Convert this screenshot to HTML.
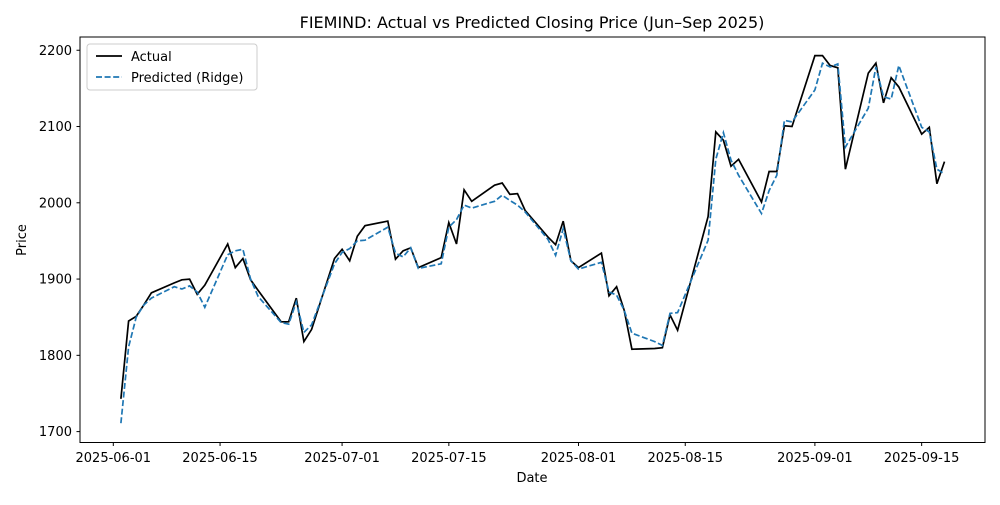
<!DOCTYPE html>
<html><head><meta charset="utf-8"><style>
html,body{margin:0;padding:0;background:#fff}
svg text{font-family:"DejaVu Sans","Liberation Sans",sans-serif;fill:#000}
</style></head><body>
<svg id="chart" width="1000" height="500" viewBox="0 0 1000 500">
<rect width="1000" height="500" fill="#fff"/>
<text x="532" y="28" font-size="16" text-anchor="middle">FIEMIND: Actual vs Predicted Closing Price (Jun–Sep 2025)</text>
<g id="grid"></g>
<g id="series"></g>
<rect x="80" y="37" width="905" height="405.5" fill="none" stroke="#000" stroke-width="1"/>
<g id="axes"></g>
<text x="532" y="482" font-size="13" text-anchor="middle">Date</text>
<text x="26" y="240" font-size="13" text-anchor="middle" transform="rotate(-90 26 240)">Price</text>
<g>
<rect x="87" y="44" width="170" height="46" rx="3" fill="#fff" stroke="#ccc"/>
<line x1="96" y1="56" x2="122" y2="56" stroke="#000" stroke-width="1.7"/>
<text x="131" y="61" font-size="13">Actual</text>
<line x1="96" y1="77" x2="122" y2="77" stroke="#1f77b4" stroke-width="1.7" stroke-dasharray="6,2.6"/>
<text x="131" y="82" font-size="13">Predicted (Ridge)</text>
</g>
</svg>
<script>
const dates=["06-02","06-03","06-04","06-05","06-06","06-09","06-10","06-11","06-12","06-13","06-16","06-17","06-18","06-19","06-20","06-23","06-24","06-25","06-26","06-27","06-30","07-01","07-02","07-03","07-04","07-07","07-08","07-09","07-10","07-11","07-14","07-15","07-16","07-17","07-18","07-21","07-22","07-23","07-24","07-25","07-28","07-29","07-30","07-31","08-01","08-04","08-05","08-06","08-07","08-08","08-11","08-12","08-13","08-14","08-18","08-19","08-20","08-21","08-22","08-25","08-26","08-27","08-28","08-29","09-01","09-02","09-03","09-04","09-05","09-08","09-09","09-10","09-11","09-12","09-15","09-16","09-17","09-18"];
const actual=[1743,1845,1851,1866,1882,1895,1899,1900,1880,1892,1946,1915,1927,1899,1885,1844,1844,1875,1818,1834,1927,1939,1924,1956,1970,1976,1926,1937,1941,1915,1928,1974,1946,2017,2002,2023,2026,2011,2012,1990,1955,1945,1976,1924,1915,1934,1878,1890,1859,1808,1809,1810,1853,1833,1982,2093,2082,2048,2057,2001,2041,2041,2101,2100,2193,2193,2180,2177,2044,2170,2183,2131,2164,2152,2090,2099,2025,2054];
const predicted=[1711,1811,1850,1866,1875,1890,1887,1891,1883,1863,1932,1937,1939,1900,1877,1843,1841,1870,1830,1840,1920,1935,1940,1950,1951,1968,1934,1929,1941,1914,1920,1968,1978,1997,1993,2002,2010,2003,1997,1988,1952,1931,1966,1924,1913,1922,1883,1879,1859,1829,1818,1813,1855,1856,1951,2057,2092,2056,2036,1986,2016,2036,2108,2106,2148,2183,2178,2182,2073,2124,2178,2139,2136,2180,2099,2093,2044,2038];
const yTicks=[1700,1800,1900,2000,2100,2200];
const xTicks=["2025-06-01","2025-06-15","2025-07-01","2025-07-15","2025-08-01","2025-08-15","2025-09-01","2025-09-15"];

const NS="http://www.w3.org/2000/svg";
const day0=Date.UTC(2025,5,1);
function dayOf(s){const p=s.split("-").map(Number);const m=p.length===3?[p[1],p[2]]:[p[0],p[1]];return (Date.UTC(2025,m[0]-1,m[1])-day0)/86400000;}
function xs(d){return 113.3+7.626*d;}
function ys(v){return 431.6-(v-1700)*0.7627;}
const axes=document.getElementById('axes');
const series=document.getElementById('series');
function mk(tag,attrs,parent){const e=document.createElementNS(NS,tag);for(const k in attrs)e.setAttribute(k,attrs[k]);parent.appendChild(e);return e;}
yTicks.forEach(v=>{
  const y=ys(v);
  const t=mk('line',{x1:76.5,x2:80,y1:y,y2:y,stroke:'#000'},axes);
  
  
  const l=mk('text',{x:72,y:y+4.5,'font-size':13,'text-anchor':'end'},axes);
  l.textContent=v;
  
  
});
xTicks.forEach(s=>{
  const x=xs(dayOf(s));
  const t=mk('line',{x1:x,x2:x,y1:442.5,y2:446,stroke:'#000'},axes);
  
  
  const l=mk('text',{x:x,y:462,'font-size':13,'text-anchor':'middle'},axes);
  l.textContent=s;
  
  
});
function path(vals){return vals.map((v,i)=>(i?'L':'M')+xs(dayOf(dates[i])).toFixed(1)+','+ys(v).toFixed(1)).join(' ');}
const pa=mk('path',{d:path(actual),fill:'none',stroke:'#000','stroke-width':1.7,'stroke-linejoin':'miter'},series);


const pp=mk('path',{d:path(predicted),fill:'none',stroke:'#1f77b4','stroke-width':1.7,'stroke-dasharray':'6,2.6'},series);


</script>
</body></html>
